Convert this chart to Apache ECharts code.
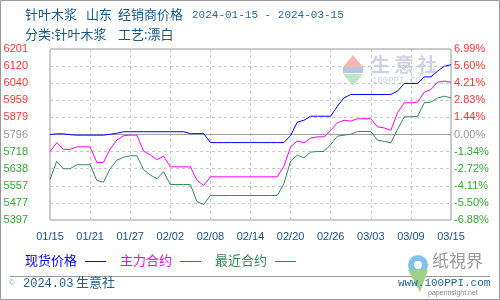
<!DOCTYPE html>
<html><head><meta charset="utf-8">
<script src="https://cdn.jsdelivr.net/npm/echarts@6/dist/echarts.min.js"></script>
<style>html,body{margin:0;padding:0;background:#fff}#c{width:500px;height:300px}</style>
</head><body><div id="c"></div>
<script>
const dates = ['01/15','01/16','01/17','01/18','01/19','01/20','01/21','01/22','01/23','01/24','01/25','01/26','01/27','01/28','01/29','01/30','01/31',
'02/01','02/02','02/03','02/04','02/05','02/06','02/07','02/08','02/09','02/10','02/11','02/12','02/13','02/14','02/15','02/16','02/17','02/18','02/19','02/20','02/21','02/22','02/23','02/24','02/25','02/26','02/27','02/28','02/29',
'03/01','03/02','03/03','03/04','03/05','03/06','03/07','03/08','03/09','03/10','03/11','03/12','03/13','03/14','03/15'];
const spotPrice = [5796,5799,5799,5795,5793,5793,5793,5793,5793,5797,5802,5809,5809,5809,5809,5809,5809,5809,5809,5809,5809,5800,5800,5800,
5758,5758,5758,5758,5758,5758,5758,5758,5758,5758,5758,5758,5791,5854,5863,5882,5882,5882,5882,5929,5968,5984,5984,5984,5984,5984,5984,5984,
6000,6036,6036,6036,6067,6067,6094,6117,6124];
const mainContract = [5715,5757,5726,5726,5738,5738,5738,5665,5665,5728,5770,5790,5793,5793,5718,5700,5678,5694,5644,5644,5644,5644,5580,5556,
5597,5597,5597,5597,5597,5597,5597,5597,5597,5597,5597,5647,5738,5766,5757,5779,5785,5785,5816,5851,5863,5859,5870,5870,5870,5832,5827,5816,
5898,5945,5945,5948,5995,6008,6042,6047,6042];
const nearContract = [5584,5670,5635,5635,5654,5654,5654,5580,5572,5635,5675,5689,5696,5696,5631,5605,5588,5621,5561,5561,5561,5561,5480,5467,
5509,5509,5509,5509,5509,5509,5509,5509,5509,5509,5509,5565,5671,5699,5686,5713,5716,5716,5749,5788,5793,5797,5810,5810,5810,5769,5764,5757,
5820,5879,5879,5882,5945,5948,5968,5976,5968];
const leftTickLabels = ['5397','5477','5557','5638','5718','5796','5879','5959','6040','6120','6201'];
const rightTickLabels = ['-6.88%','-5.50%','-4.11%','-2.72%','-1.34%','0.00%','1.44%','2.83%','4.21%','5.60%','6.99%'];
const baseValue = 5796;
const yStep = 80.4;
const yMin = baseValue - 5*yStep;
const yMax = baseValue + 5*yStep;

const seriesNames = ['现货价格','主力合约','最近合约'];
const seriesColors = ['#0000ff','#ff00ff','#2e8b57'];

function tickIndex(v){ return Math.round((Number(v)-yMin)/yStep); }
function tickColor(v){ const i=tickIndex(v); return i<5?'#33aa33':(i===5?'#999999':'#ff3333'); }

const chart = echarts.init(document.getElementById('c'), null, {renderer:'canvas'});
const titleColor = '#17598a';
const cjk = '"Noto Sans CJK SC", sans-serif';

const legendGraphics = [];
const legendX = [25,120,215];
seriesNames.forEach((n,i)=>{
  legendGraphics.push({type:'text', left:legendX[i], top:254, style:{text:n, fill:seriesColors[i], font:'13px '+cjk}});
  legendGraphics.push({type:'line', shape:{x1:legendX[i]+60, y1:261.5, x2:legendX[i]+81, y2:261.5}, style:{stroke:seriesColors[i], lineWidth:1}});
});

chart.setOption({
  animation:false,
  grid:{left:50, top:49, width:401, height:171, show:true, borderColor:'#999', borderWidth:1},
  xAxis:{type:'category', data:dates, boundaryGap:false,
    axisLine:{show:false}, axisTick:{show:false},
    axisLabel:{interval:5, color:'#1a4f7f', fontFamily:'Liberation Sans', fontSize:11, margin:11},
    splitLine:{show:true, interval:5, lineStyle:{color:'#c8c8c8', type:[3,3], width:1}}},
  yAxis:[
    {type:'value', min:yMin, max:yMax, interval:yStep, position:'left',
      axisLine:{show:false}, axisTick:{show:false},
      axisLabel:{margin:22, fontFamily:'Liberation Sans', fontSize:11, color:tickColor,
        formatter:v=>leftTickLabels[tickIndex(v)]},
      splitLine:{show:true, lineStyle:{color:'#c8c8c8', type:[3,3], width:1}}},
    {type:'value', min:yMin, max:yMax, interval:yStep, position:'right',
      axisLine:{show:false}, axisTick:{show:false},
      axisLabel:{margin:3, fontFamily:'Liberation Sans', fontSize:11, color:tickColor,
        formatter:v=>rightTickLabels[tickIndex(v)]},
      splitLine:{show:false}}
  ],
  series:[
    {name:seriesNames[2], type:'line', data:nearContract, symbol:'none', color:seriesColors[2], lineStyle:{width:1, color:seriesColors[2]}, z:3},
    {name:seriesNames[1], type:'line', data:mainContract, symbol:'none', color:seriesColors[1], lineStyle:{width:1, color:seriesColors[1]}, z:4},
    {name:seriesNames[0], type:'line', data:spotPrice, symbol:'none', color:seriesColors[0], lineStyle:{width:1, color:seriesColors[0]}, z:5,
      markLine:{silent:true, symbol:['none','none'], label:{show:false}, lineStyle:{color:'#a0a0a0', type:'solid', width:1}, data:[{yAxis:baseValue}], z:2}}
  ],
  graphic:[
    {type:'rect', shape:{x:0.5,y:0.5,width:499,height:299}, style:{fill:'none', stroke:'#999', lineWidth:1}, silent:true},
    {type:'text', left:25, top:8, style:{text:'针叶木浆', fill:titleColor, font:'13px '+cjk}},
    {type:'text', left:86, top:8, style:{text:'山东', fill:titleColor, font:'13px '+cjk}},
    {type:'text', left:118, top:8, style:{text:'经销商价格', fill:titleColor, font:'13px '+cjk}},
    {type:'text', left:192, top:10, style:{text:'2024-01-15 - 2024-03-15', fill:'#2a6a96', font:'11px "Liberation Mono", monospace'}},
    {type:'text', left:25, top:28, style:{text:'分类:针叶木浆', fill:titleColor, font:'13px '+cjk}},
    {type:'text', left:118, top:28, style:{text:'工艺:漂白', fill:titleColor, font:'13px '+cjk}},
    // plot watermark
    {type:'polygon', shape:{points:[[353,55],[343,67],[363,67]]}, style:{fill:'#f4b8b0'}, silent:true, z:0},
    {type:'rect', shape:{x:343,y:67,width:20,height:6}, style:{fill:'#b8c4e0'}, silent:true, z:0},
    {type:'polygon', shape:{points:[[343,74],[363,74],[353,86]]}, style:{fill:'#bde6c4'}, silent:true, z:0},
    {type:'text', left:371, top:55, style:{text:'生 意 社', fill:'#cdd2e4', font:'bold 19px '+cjk}, silent:true, z:0},
    {type:'text', left:372, top:76, style:{text:'100PPI.COM', fill:'#d0d4e0', font:'9px "Liberation Mono", monospace'}, silent:true, z:0},
    ...legendGraphics,
    {type:'line', shape:{x1:10, y1:276.5, x2:490, y2:276.5}, style:{stroke:'#999', lineWidth:1}},
    {type:'text', left:9, top:279, style:{text:'©', fill:'#7aa8cc', font:'8px "Liberation Sans"'}},
    {type:'text', left:23, top:278, style:{text:'2024.03', fill:'#1f5f8f', font:'12px "Liberation Mono", monospace'}},
    {type:'text', left:76, top:276, style:{text:'生意社', fill:'#1f5f8f', font:'13px '+cjk}},
    // bottom-right logo
    {type:'circle', shape:{cx:418, cy:265, r:10}, style:{fill:'#7fc4e8'}, silent:true},
    {type:'circle', shape:{cx:418, cy:265, r:4}, style:{fill:'#ffffff'}, silent:true},
    {type:'polygon', shape:{points:[[408,270],[428,270],[420,292]]}, style:{fill:'#9fd08a'}, silent:true},
    {type:'text', left:432, top:252, style:{text:'纸視界', fill:'#9a9a9a', font:'17px "Noto Sans CJK TC"'}},
    {type:'text', left:398, top:278, style:{text:'www.100PPI.com', fill:'#1f5f8f', font:'11px "Liberation Mono", monospace'}},
    {type:'text', left:428, top:290, style:{text:'paperinsight.net', fill:'#888', font:'7px "Liberation Sans"'}}
  ]
});
</script>
</body></html>
